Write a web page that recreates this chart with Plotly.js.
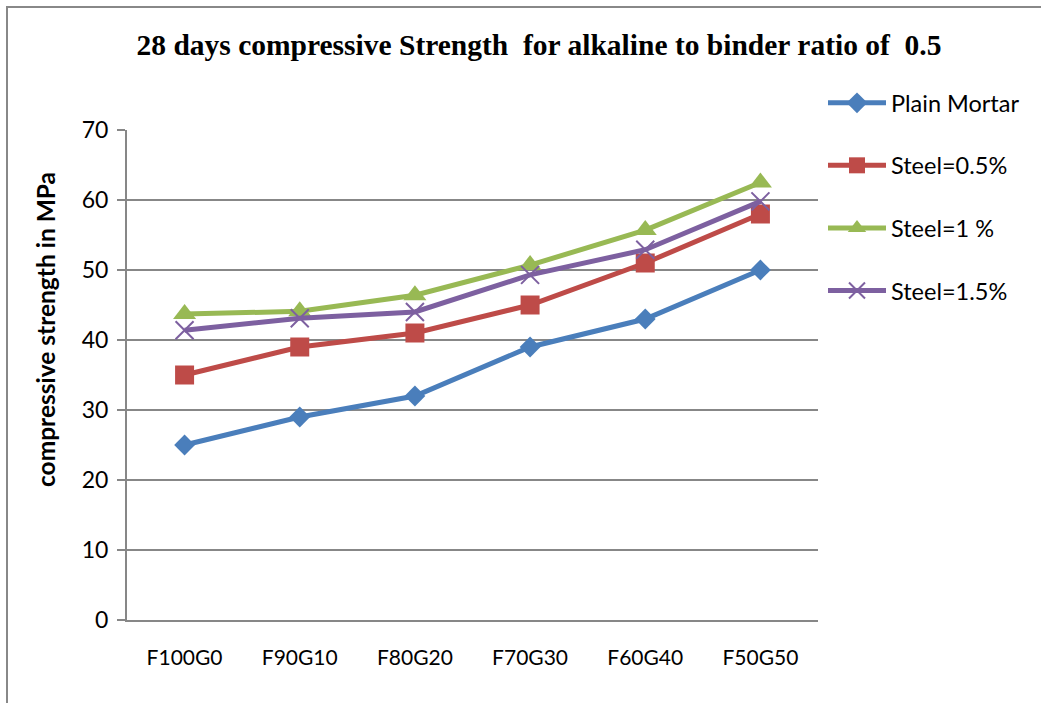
<!DOCTYPE html>
<html>
<head>
<meta charset="utf-8">
<script src="https://cdn.plot.ly/plotly-3.0.1.min.js"></script>
<style>html,body{margin:0;padding:0;background:#fff;}#chart{width:1041px;height:703px;}</style>
</head>
<body>
<div id="chart"></div>
<script>
const categories = ["F100G0", "F90G10", "F80G20", "F70G30", "F60G40", "F50G50"];
const plainMortar = [25, 29, 32, 39, 43, 50];
const steel05 = [35, 39, 41, 45, 51, 58];
const steel10 = [43.7, 44.1, 46.4, 50.7, 55.7, 62.5];
const steel15 = [41.4, 43.1, 44.0, 49.3, 52.9, 59.8];
const seriesNames = ["Plain Mortar", "Steel=0.5%", "Steel=1 %", "Steel=1.5%"];
const yTicks = [0, 10, 20, 30, 40, 50, 60, 70];
const yTitle = "compressive strength in MPa";
const chartTitle = "28 days compressive Strength&nbsp; for alkaline to binder ratio of&nbsp; 0.5";

const colors = ["#4A7EBB", "#BE4B48", "#98B954", "#7D60A0"];
const symbols = ["diamond", "square", "triangle-up", "x-thin-open"];
const sizes = [16, 19, 20, 18];
const allSeries = [plainMortar, steel05, steel10, steel15];

const traces = allSeries.map((vals, i) => ({
  type: "scatter",
  mode: "lines+markers",
  x: categories,
  y: vals,
  name: seriesNames[i],
  legendgroup: "g" + i,
  line: {color: colors[i], width: 5},
  marker: {
    symbol: symbols[i],
    size: sizes[i],
    color: colors[i],
    line: {color: colors[i], width: symbols[i] === "x-thin-open" ? 2 : 0}
  }
}));

const ml = 127, mr = 223, mt = 130, mb = 83;
const pw = 1041 - ml - mr, ph = 703 - mt - mb;
const px = v => (v - ml) / pw;
const py = v => (703 - mb - v) / ph;

const layout = {
  width: 1041,
  height: 703,
  margin: {l: ml, r: mr, t: mt, b: mb, pad: 0},
  paper_bgcolor: "#ffffff",
  plot_bgcolor: "#ffffff",
  font: {family: "Lato, 'DejaVu Sans', sans-serif", color: "#000"},
  title: {
    text: "<b>" + chartTitle + "</b>",
    font: {family: "'Liberation Serif', 'Times New Roman', serif", size: 29.5, color: "#000"},
    x: 539 / 1041,
    xanchor: "center",
    xref: "container",
    y: 1 - 45 / 703,
    yanchor: "middle",
    yref: "container"
  },
  xaxis: {
    type: "category",
    range: [-0.5, 5.5],
    showgrid: false,
    showline: true,
    linecolor: "#878787",
    linewidth: 2,
    ticks: "",
    tickfont: {size: 21, color: "#000"},
    ticklabelstandoff: 18,
    zeroline: false,
    fixedrange: true
  },
  yaxis: {
    range: [0, 70],
    tickvals: yTicks,
    showgrid: true,
    gridcolor: "#878787",
    gridwidth: 2,
    showline: true,
    linecolor: "#878787",
    linewidth: 2,
    ticks: "outside",
    ticklen: 8,
    tickwidth: 2,
    tickcolor: "#878787",
    tickfont: {size: 23, color: "#000"},
    ticklabelstandoff: 4,
    zeroline: false,
    fixedrange: true
  },
  annotations: [{
    text: "<b>" + yTitle + "</b>",
    textangle: -90,
    xref: "paper",
    yref: "paper",
    x: px(45),
    y: py(330),
    xanchor: "center",
    yanchor: "middle",
    showarrow: false,
    font: {size: 24.5, color: "#000"}
  }],
  showlegend: true,
  legend: {
    x: px(823),
    xanchor: "left",
    y: py(81),
    yanchor: "top",
    font: {size: 23.5, color: "#000"},
    tracegroupgap: 29,
    itemwidth: 58,
    bgcolor: "rgba(0,0,0,0)"
  },
  shapes: [{
    type: "rect",
    xref: "paper",
    yref: "paper",
    x0: px(7),
    x1: px(1050),
    y0: py(712),
    y1: py(7),
    line: {color: "#888888", width: 2},
    fillcolor: "rgba(0,0,0,0)",
    layer: "below"
  }]
};

Plotly.newPlot("chart", traces, layout, {displayModeBar: false, staticPlot: true});
</script>
</body>
</html>
